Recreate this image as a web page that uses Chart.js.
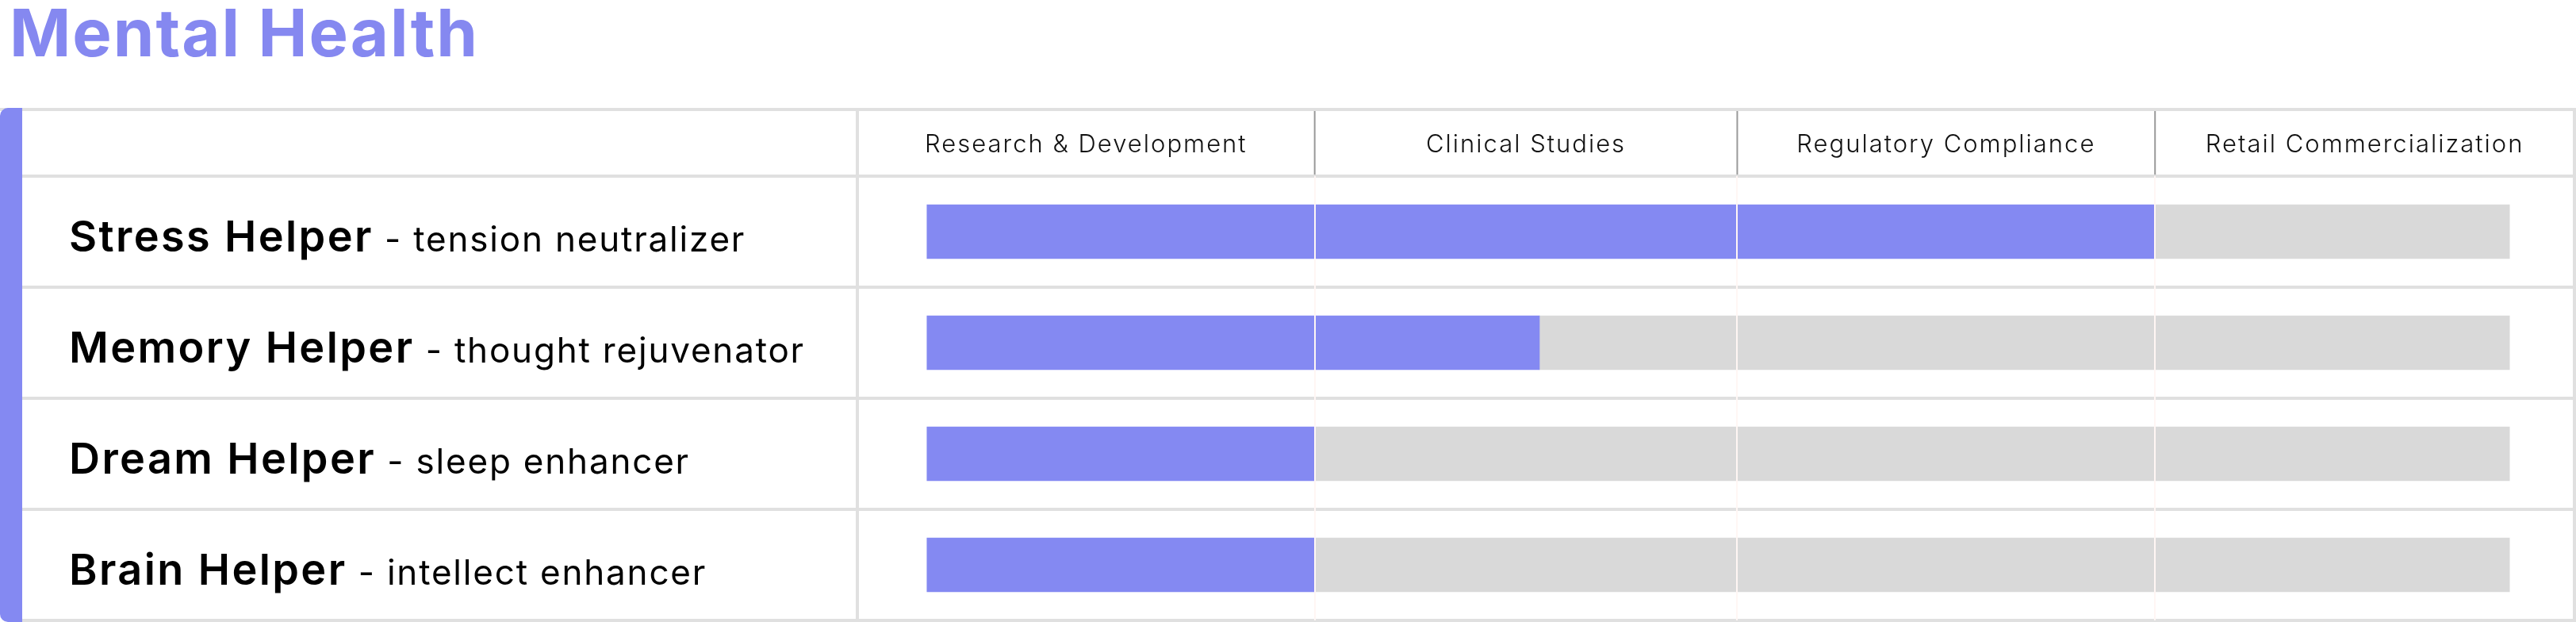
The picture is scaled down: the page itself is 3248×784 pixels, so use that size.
<!DOCTYPE html>
<html>
<head>
<meta charset="utf-8">
<script src="https://cdn.jsdelivr.net/npm/chart.js@4.4.1/dist/chart.umd.min.js"></script>
<style>
  html, body { margin: 0; padding: 0; background: #fff; }
  canvas { display: block; }
</style>
</head>
<body>
<canvas id="pipeline" width="3248" height="784"></canvas>
<script>
const products = ['Stress Helper', 'Memory Helper', 'Dream Helper', 'Brain Helper'];
const descriptors = ['tension neutralizer', 'thought rejuvenator', 'sleep enhancer', 'intellect enhancer'];
const stages = ['Research & Development', 'Clinical Studies', 'Regulatory Compliance', 'Retail Commercialization'];
// column edges on the progress axis (% of the full bar)
const stageEdges = [-4.4, 24.5, 51.2, 77.6, 104.1];
const progress = [77.6, 38.7, 24.5, 24.5];
const remaining = progress.map(p => 100 - p);

const purple = '#8489f2';
const lineGray = '#e0e0e0';
const fontFamily = "Inter, 'Noto Sans', sans-serif";

// table frame, header dividers and the two-weight row labels
const tableFrame = {
  id: 'tableFrame',
  beforeDraw(chart) {
    const {ctx, chartArea, scales} = chart;
    const top = scales.xTop.top;
    ctx.save();
    ctx.fillStyle = lineGray;
    ctx.fillRect(0, top - 2, chart.width, 4);
    ctx.fillRect(chartArea.right - 2, top - 2, 4, chart.height - top + 2);
    ctx.fillRect(chartArea.left - 2, top, 4, chartArea.top - top);
    ctx.fillStyle = purple;
    ctx.beginPath();
    ctx.roundRect(0, top - 2, 28, chart.height - top + 2, [10, 0, 0, 10]);
    ctx.fill();
    ctx.strokeStyle = '#999';
    ctx.lineWidth = 2;
    stageEdges.slice(1, -1).forEach(e => {
      const x = scales.x.getPixelForValue(e);
      ctx.beginPath();
      ctx.moveTo(x, top + 2);
      ctx.lineTo(x, chartArea.top - 2);
      ctx.stroke();
    });
    ctx.restore();
    // the original face is wider, open the title and header a little
    ctx.letterSpacing = '2px';
  },
  afterDraw(chart) {
    const {ctx, scales} = chart;
    ctx.save();
    ctx.fillStyle = '#000';
    ctx.textBaseline = 'alphabetic';
    products.forEach((name, i) => {
      const y = scales.y.getPixelForValue(i) + 25;
      let x = 87;
      ctx.font = '600 54px ' + fontFamily;
      ctx.letterSpacing = '2.4px';
      ctx.fillText(name, x, y);
      x += ctx.measureText(name).width;
      ctx.font = '400 44px ' + fontFamily;
      ctx.letterSpacing = '1.8px';
      ctx.fillText(' - ' + descriptors[i], x, y);
    });
    ctx.restore();
    ctx.letterSpacing = '0px';
  }
};

new Chart(document.getElementById('pipeline'), {
  type: 'bar',
  data: {
    labels: products,
    datasets: [
      { label: 'Completed', data: progress, backgroundColor: purple },
      { label: 'Remaining', data: remaining, backgroundColor: '#d9d9d9' }
    ]
  },
  options: {
    indexAxis: 'y',
    responsive: false,
    animation: false,
    devicePixelRatio: 1,
    layout: { padding: { left: 12, right: 2, top: 0, bottom: 2 } },
    datasets: { bar: { barThickness: 68, borderWidth: 0 } },
    scales: {
      x: {
        type: 'linear',
        stacked: true,
        min: stageEdges[0],
        max: stageEdges[stageEdges.length - 1],
        position: 'bottom',
        afterBuildTicks: s => { s.ticks = stageEdges.slice(1, -1).map(v => ({ value: v })); },
        afterFit: s => { s.height = 0; },
        ticks: { display: false },
        grid: { color: '#fff6f4', lineWidth: 2, drawTicks: false, z: 1 },
        border: { display: false }
      },
      xTop: {
        type: 'linear',
        min: stageEdges[0],
        max: stageEdges[stageEdges.length - 1],
        position: 'top',
        afterBuildTicks: s => {
          s.ticks = stages.map((_, i) => ({ value: (stageEdges[i] + stageEdges[i + 1]) / 2 }));
        },
        afterFit: s => { s.height = 84; },
        ticks: {
          callback: (v, i) => stages[i],
          autoSkip: false,
          maxRotation: 0,
          padding: 21,
          color: '#111',
          font: { family: fontFamily, size: 31, weight: 300 }
        },
        grid: { display: false, drawTicks: false },
        border: { display: false }
      },
      y: {
        stacked: true,
        afterFit: s => { s.width = 1069; },
        ticks: { display: false },
        grid: { offset: true, color: lineGray, lineWidth: 4, drawTicks: true, tickLength: 1053 },
        border: { display: true, color: lineGray, width: 4 }
      }
    },
    plugins: {
      legend: { display: false },
      tooltip: { enabled: false },
      title: {
        display: true,
        text: 'Mental Health',
        align: 'start',
        color: '#8588f0',
        font: { family: fontFamily, size: 83, weight: 700, lineHeight: 1.1 },
        padding: { top: 0, bottom: 46.7 }
      }
    }
  },
  plugins: [tableFrame]
});
</script>
</body>
</html>
